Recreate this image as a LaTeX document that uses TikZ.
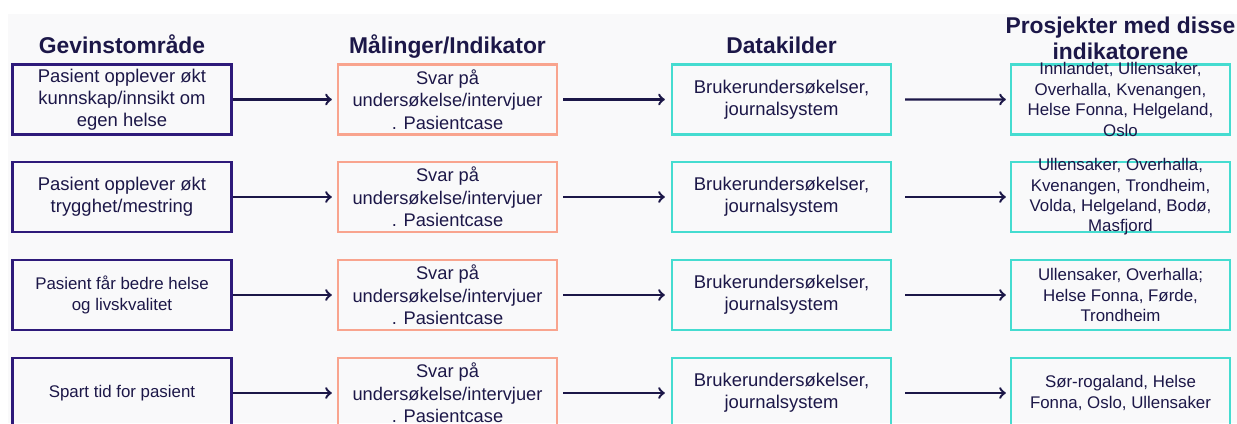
\documentclass[tikz,border=0pt]{standalone}
\usepackage{fontspec}
\setmainfont{Liberation Sans}
\definecolor{ink}{HTML}{1C1748}
\definecolor{gevinst}{HTML}{2E1A7A}
\definecolor{maaling}{HTML}{F9A48E}
\definecolor{kilde}{HTML}{45DCD0}
\definecolor{bakgrunn}{HTML}{F9F9FA}
\begin{document}
\begin{tikzpicture}[x=0.02cm,y=-0.02cm,
  every node/.style={text=ink},
  head/.style={font=\fontsize{13}{14.7}\selectfont\bfseries,align=center},
  box/.style={draw,line width=1.4pt,minimum width=4.38cm,minimum height=1.4cm,inner xsep=2pt,inner ysep=-6pt,align=center},
  fbig/.style={font=\fontsize{10.5}{12.4}\selectfont},
  fmid/.style={font=\fontsize{10.4}{12.8}\selectfont},
  fsmall/.style={font=\fontsize{9.6}{11.6}\selectfont},
  pil/.style={->,draw=ink,line width=1.4pt}]
\fill[white] (0,0) rectangle (1237,423);
\useasboundingbox (0,0) rectangle (1237,423);
\fill[bakgrunn] (8,14) rectangle (1237,423);
% overskrifter
\node[head,anchor=base] (h1) at (122,53) {Gevinstområde};
\node[head,anchor=base] (h2) at (447.5,53) {Målinger/Indikator};
\node[head,anchor=base] (h3) at (781.5,53) {Datakilder};
\node[head] (h4) at (1120.5,38) {Prosjekter med disse\\indikatorene};
% gevinstområde
\node[box,draw=gevinst,fbig] (g1) at (122,99.5) {Pasient opplever økt\\kunnskap/innsikt om\\egen helse};
\node[box,draw=gevinst,fbig] (g2) at (122,197) {Pasient opplever økt\\trygghet/mestring};
\node[box,draw=gevinst,fsmall] (g3) at (122,295) {Pasient får bedre helse\\og livskvalitet};
\node[box,draw=gevinst,fsmall] (g4) at (122,393) {Spart tid for pasient};
% målinger
\node[box,draw=maaling,fmid] (m1) at (447.5,99.5) {Svar på\\undersøkelse/intervjuer\\. Pasientcase};
\node[box,draw=maaling,fmid] (m2) at (447.5,197) {Svar på\\undersøkelse/intervjuer\\. Pasientcase};
\node[box,draw=maaling,fmid] (m3) at (447.5,295) {Svar på\\undersøkelse/intervjuer\\. Pasientcase};
\node[box,draw=maaling,fmid] (m4) at (447.5,393) {Svar på\\undersøkelse/intervjuer\\. Pasientcase};
% datakilder
\node[box,draw=kilde,fbig] (d1) at (781.5,99.5) {Brukerundersøkelser,\\journalsystem};
\node[box,draw=kilde,fbig] (d2) at (781.5,197) {Brukerundersøkelser,\\journalsystem};
\node[box,draw=kilde,fbig] (d3) at (781.5,295) {Brukerundersøkelser,\\journalsystem};
\node[box,draw=kilde,fbig] (d4) at (781.5,393) {Brukerundersøkelser,\\journalsystem};
% prosjekter
\node[box,draw=kilde,fsmall] (p1) at (1120.5,99.5) {Innlandet, Ullensaker,\\Overhalla, Kvenangen,\\Helse Fonna, Helgeland,\\Oslo};
\node[box,draw=kilde,fsmall] (p2) at (1120.5,197) {Ullensaker, Overhalla,\\Kvenangen, Trondheim,\\Volda, Helgeland, Bodø,\\Masfjord};
\node[box,draw=kilde,fsmall] (p3) at (1120.5,295) {Ullensaker, Overhalla;\\Helse Fonna, Førde,\\Trondheim};
\node[box,draw=kilde,fsmall] (p4) at (1120.5,393) {Sør-rogaland, Helse\\Fonna, Oslo, Ullensaker};
% piler
\foreach \r in {1,...,4} {
  \draw[pil,shorten >=0.1cm] (g\r) -- (m\r);
  \draw[pil,shorten <=0.1cm,shorten >=0.12cm] (m\r) -- (d\r);
  \draw[pil,shorten <=0.26cm,shorten >=0.08cm] (d\r) -- (p\r);
}
\end{tikzpicture}
\end{document}
